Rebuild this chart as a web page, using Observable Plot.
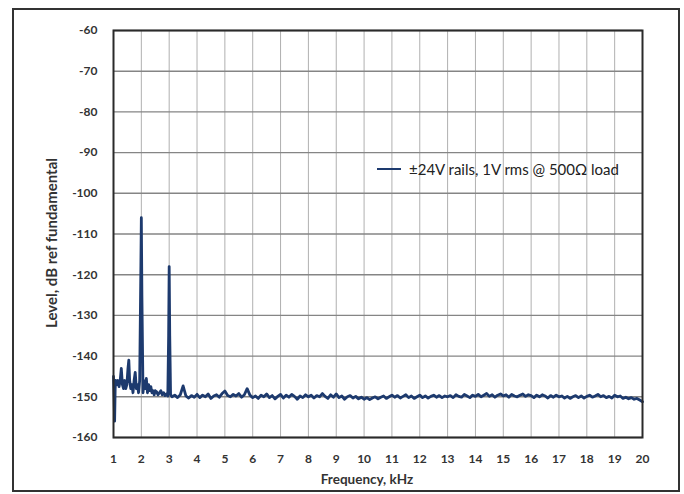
<!DOCTYPE html>
<html>
<head>
<meta charset="utf-8">
<script src="https://cdn.jsdelivr.net/npm/d3@7"></script>
<script src="https://cdn.jsdelivr.net/npm/@observablehq/plot@0.6"></script>
<style>
  html, body { margin: 0; padding: 0; background: #fff; }
  #wrap { position: relative; width: 684px; height: 494px; overflow: hidden; }
  #outer { position: absolute; left: 12px; top: 8px; width: 668px; height: 484px; box-sizing: border-box; border: 2px solid #333; pointer-events: none; }
  #legend { position: absolute; left: 377px; top: 160px; font-family: Lato, "Liberation Sans", sans-serif; font-size: 15px; color: #222; display: flex; align-items: center; white-space: nowrap; }
  #legend .sw { width: 24px; height: 0; border-top: 2.5px solid #1d3a6e; margin-right: 8px; }
</style>
</head>
<body>
<div id="wrap">
  <div id="chart"></div>
  <div id="outer"></div>
  <div id="legend"><span class="sw"></span><span id="legendText"></span></div>
</div>
<script>
const seriesName = "±24V rails, 1V rms @ 500Ω load";
const xLabel = "Frequency, kHz";
const yLabel = "Level, dB ref fundamental";
const xTicks = [1,2,3,4,5,6,7,8,9,10,11,12,13,14,15,16,17,18,19,20];
const yTicks = [-160,-150,-140,-130,-120,-110,-100,-90,-80,-70,-60];

// low-frequency region, 1 – 3.05 kHz
const freqLow = [1.00,1.02,1.04,1.06,1.08,1.12,1.16,1.20,1.24,1.28,1.32,1.36,1.40,1.44,1.48,1.52,1.55,1.58,1.62,1.66,1.70,1.74,1.78,1.82,1.86,1.90,1.94,1.98,2.00,2.02,2.06,2.10,2.14,2.18,2.22,2.26,2.30,2.34,2.38,2.42,2.46,2.50,2.55,2.60,2.65,2.70,2.75,2.80,2.85,2.90,2.95,2.98,3.00,3.02,3.05];
const levelLow = [-145,-150,-156,-148,-146,-147,-146,-147.5,-146,-143,-147,-148,-146,-148,-147,-143,-141,-146,-148,-147,-149,-146,-144,-148,-147,-149,-146,-120,-106,-125,-149,-146,-148,-145.5,-149,-147,-148.5,-147.5,-149,-148.5,-149.5,-148.5,-148.8,-149.5,-149,-148.5,-149.5,-149,-149.7,-149.3,-149.8,-135,-118,-135,-149.5];

// noise floor, 3.1 – 20 kHz in 0.1 kHz steps
const freqHigh = [
  3.1,3.2,3.3,3.4,3.5,3.6,3.7,3.8,3.9,4.0,
  4.1,4.2,4.3,4.4,4.5,4.6,4.7,4.8,4.9,5.0,
  5.1,5.2,5.3,5.4,5.5,5.6,5.7,5.8,5.9,6.0,
  6.1,6.2,6.3,6.4,6.5,6.6,6.7,6.8,6.9,7.0,
  7.1,7.2,7.3,7.4,7.5,7.6,7.7,7.8,7.9,8.0,
  8.1,8.2,8.3,8.4,8.5,8.6,8.7,8.8,8.9,9.0,
  9.1,9.2,9.3,9.4,9.5,9.6,9.7,9.8,9.9,10.0,
  10.1,10.2,10.3,10.4,10.5,10.6,10.7,10.8,10.9,11.0,
  11.1,11.2,11.3,11.4,11.5,11.6,11.7,11.8,11.9,12.0,
  12.1,12.2,12.3,12.4,12.5,12.6,12.7,12.8,12.9,13.0,
  13.1,13.2,13.3,13.4,13.5,13.6,13.7,13.8,13.9,14.0,
  14.1,14.2,14.3,14.4,14.5,14.6,14.7,14.8,14.9,15.0,
  15.1,15.2,15.3,15.4,15.5,15.6,15.7,15.8,15.9,16.0,
  16.1,16.2,16.3,16.4,16.5,16.6,16.7,16.8,16.9,17.0,
  17.1,17.2,17.3,17.4,17.5,17.6,17.7,17.8,17.9,18.0,
  18.1,18.2,18.3,18.4,18.5,18.6,18.7,18.8,18.9,19.0,
  19.1,19.2,19.3,19.4,19.5,19.6,19.7,19.8,19.9,20.0
];
const levelHigh = [
  -150.0,-149.6,-150.2,-149.5,-147.3,-149.8,-150.3,-149.7,-150.1,-149.4,
  -150.2,-149.6,-150.0,-149.3,-150.4,-149.8,-149.5,-150.1,-149.2,-148.6,
  -149.7,-150.0,-149.4,-149.8,-149.2,-150.1,-149.5,-148.0,-149.6,-150.2,
  -149.8,-150.4,-149.6,-150.0,-149.3,-150.2,-149.7,-150.5,-149.9,-149.4,
  -150.3,-149.6,-150.1,-149.4,-149.9,-150.6,-149.8,-150.2,-149.5,-150.0,
  -149.6,-150.3,-149.7,-150.0,-149.2,-149.9,-150.4,-149.5,-150.1,-149.3,
  -150.2,-149.8,-150.6,-150.0,-149.7,-150.3,-149.9,-150.5,-150.1,-150.6,
  -150.2,-150.7,-150.3,-150.0,-150.5,-150.1,-149.8,-150.4,-150.0,-149.6,
  -150.1,-149.7,-150.3,-149.9,-149.5,-150.2,-149.8,-150.4,-150.0,-149.6,
  -150.2,-149.8,-150.3,-149.9,-149.6,-150.1,-149.7,-150.2,-149.8,-150.0,
  -149.7,-150.2,-149.5,-149.9,-150.1,-149.4,-149.8,-150.2,-149.6,-149.9,
  -149.4,-150.0,-149.6,-149.2,-149.9,-149.5,-150.1,-149.6,-149.3,-149.8,
  -149.5,-150.1,-149.4,-149.8,-150.0,-149.6,-149.3,-149.9,-149.5,-149.7,
  -150.2,-149.6,-150.0,-149.5,-149.8,-150.3,-149.7,-150.1,-149.6,-150.0,
  -149.8,-150.3,-149.9,-150.4,-150.0,-149.7,-150.2,-149.8,-150.3,-149.9,
  -149.6,-150.1,-149.8,-149.4,-150.0,-149.7,-150.2,-149.9,-150.3,-149.6,
  -150.0,-149.8,-150.4,-150.1,-150.5,-150.2,-150.6,-150.4,-150.8,-151.2
];

const freq = freqLow.concat(freqHigh);
const level = levelLow.concat(levelHigh);
const data = freq.map((f, i) => ({f, v: level[i]}));

document.getElementById("legendText").textContent = seriesName;

const chart = Plot.plot({
  width: 684,
  height: 494,
  marginLeft: 113,
  marginRight: 42,
  marginTop: 30,
  marginBottom: 57,
  style: {fontFamily: "Lato, 'Liberation Sans', sans-serif", fontSize: "12px", fontWeight: "bold", color: "#333", background: "transparent"},
  x: {domain: [1, 20]},
  y: {domain: [-160, -60]},
  marks: [
    Plot.gridX(xTicks, {stroke: "#b0b0b0", strokeOpacity: 1, strokeWidth: 1}),
    Plot.gridY(yTicks, {stroke: "#858585", strokeOpacity: 1, strokeWidth: 1.4}),
    Plot.axisX(xTicks, {tickSize: 0, tickPadding: 17, label: null, tickFormat: d => String(d)}),
    Plot.axisY(yTicks, {tickSize: 0, tickPadding: 16, label: null, tickFormat: d => String(d)}),
    Plot.line(data, {x: "f", y: "v", stroke: "#1d3a6e", strokeWidth: 2.8, strokeLinejoin: "round"}),
    Plot.frame({stroke: "#2a2a2a", strokeWidth: 2}),
    Plot.text([xLabel], {frameAnchor: "bottom", dy: 46, dx: -11, fontSize: 13.5, fontWeight: "bold", fill: "#333"}),
    Plot.text([yLabel], {frameAnchor: "left", textAnchor: "middle", rotate: -90, dx: -61, dy: 9, fontSize: 15, fontWeight: "bold", fill: "#333"})
  ]
});
document.getElementById("chart").appendChild(chart);
</script>
</body>
</html>
